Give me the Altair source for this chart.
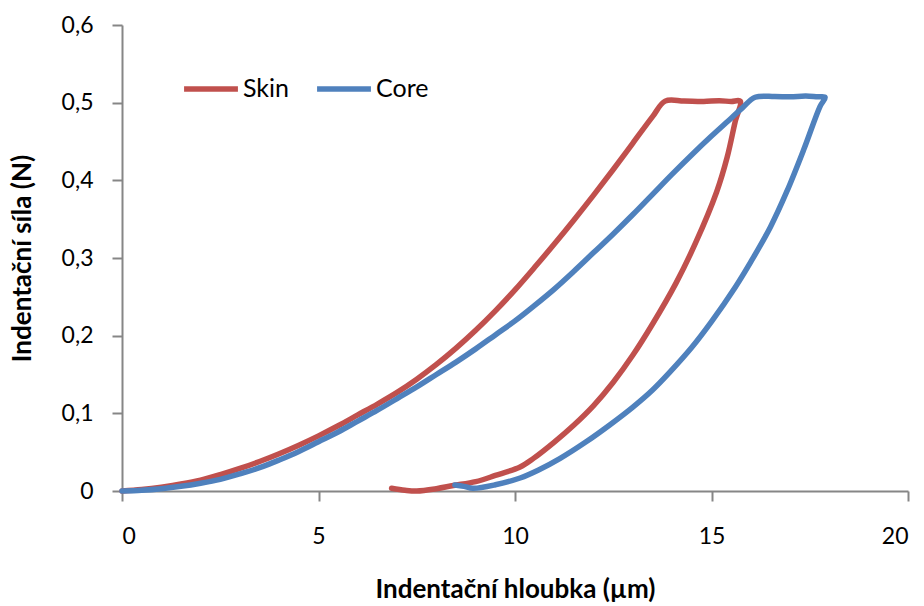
import altair as alt
import pandas as pd

# Indentation cycle readings: depth (µm) and force (N), in measurement order
skin_depth = [0.0, 0.5, 1.0, 1.5, 2.0, 2.5, 3.0, 3.5, 4.0, 4.5, 5.0, 5.5, 6.0, 6.5, 7.0,
              7.5, 8.0, 8.5, 9.0, 9.5, 10.0, 10.5, 11.0, 11.5, 12.0, 12.5, 13.0, 13.5, 13.82,
              14.3, 14.8, 15.2, 15.5, 15.73,
              15.6, 15.4, 15.13, 14.6, 14.1, 13.5, 13.0, 12.5, 12.0, 11.5, 11.0, 10.47,
              10.13, 9.5, 9.0, 8.43, 8.0, 7.5, 7.2, 6.86]
skin_force = [0.0, 0.002, 0.005, 0.009, 0.014, 0.021, 0.029, 0.038, 0.048, 0.059, 0.071,
              0.084, 0.098, 0.112, 0.127, 0.144, 0.163, 0.184, 0.207, 0.232, 0.259, 0.288,
              0.318, 0.349, 0.381, 0.414, 0.448, 0.482, 0.502,
              0.502, 0.5015, 0.5025, 0.5015, 0.502,
              0.475, 0.43, 0.385, 0.32, 0.268, 0.215, 0.175, 0.14, 0.11, 0.085, 0.063,
              0.042, 0.031, 0.02, 0.012, 0.007, 0.003, 0.0, 0.001, 0.0035]

core_depth = [0.0, 0.5, 1.0, 1.5, 2.0, 2.5, 3.0, 3.5, 4.0, 4.5, 5.0, 5.5, 6.0, 6.5, 7.0,
              7.5, 8.0, 8.5, 9.0, 9.5, 10.0, 10.5, 11.0, 11.5, 12.0, 12.5, 13.0, 13.5,
              14.0, 14.5, 15.0, 15.5, 15.8, 16.11,
              16.6, 17.0, 17.4, 17.7, 17.89,
              17.76, 17.35, 16.92, 16.5, 16.0, 15.6, 15.0, 14.5, 13.94, 13.5, 13.0, 12.41,
              11.8, 11.15, 10.6, 10.13, 9.5, 8.93, 8.7, 8.47]
core_force = [0.0, 0.001, 0.003, 0.006, 0.01, 0.015, 0.022, 0.03, 0.04, 0.051, 0.0635,
              0.076, 0.09, 0.104, 0.119, 0.134, 0.15, 0.166, 0.183, 0.201, 0.219, 0.239,
              0.26, 0.283, 0.307, 0.331, 0.356, 0.382, 0.408, 0.433, 0.457, 0.48, 0.494,
              0.507,
              0.508, 0.5075, 0.5085, 0.5075, 0.507,
              0.495, 0.44, 0.386, 0.34, 0.295, 0.262, 0.218, 0.185, 0.153, 0.13, 0.108,
              0.085, 0.063, 0.042, 0.027, 0.0167, 0.008, 0.0035, 0.006, 0.0077]

series = ["Skin", "Core"]
colors = ["#C0504D", "#4F81BD"]

rows = []
for name, xs, ys in [("Skin", skin_depth, skin_force), ("Core", core_depth, core_force)]:
    for i, (x, y) in enumerate(zip(xs, ys)):
        rows.append({"series": name, "step": i, "depth": x, "force": y})
df = pd.DataFrame(rows)

FONT = "Lato"

chart = alt.Chart(df).mark_line(
    strokeWidth=5.5, strokeCap="round", strokeJoin="round", interpolate="catmull-rom"
).encode(
    x=alt.X("depth:Q",
            scale=alt.Scale(domain=[0, 20], nice=False),
            axis=alt.Axis(values=[0, 5, 10, 15, 20], title="Indentační hloubka (µm)",
                          grid=False, tickSize=10, labelPadding=24, titlePadding=28)),
    y=alt.Y("force:Q",
            scale=alt.Scale(domain=[0, 0.6], nice=False),
            axis=alt.Axis(values=[0, 0.1, 0.2, 0.3, 0.4, 0.5, 0.6],
                          labelExpr="replace(format(datum.value, '.1~f'), '.', ',')",
                          title="Indentační síla (N)",
                          grid=False, tickSize=10, labelPadding=19, titlePadding=26)),
    color=alt.Color("series:N", scale=alt.Scale(domain=series, range=colors),
                    legend=alt.Legend(title=None, orient="none", direction="horizontal",
                                      legendX=59, legendY=34, symbolType="stroke",
                                      symbolSize=2900, symbolStrokeWidth=5.5,
                                      labelFontSize=25, labelFont=FONT, columnPadding=16,
                                      labelOffset=2)),
    order="step:Q",
).properties(
    width=786, height=466,
    autosize=alt.AutoSizeParams(type="none"),
    padding={"left": 122, "top": 25, "right": 16, "bottom": 115},
).configure_view(
    stroke=None
).configure_axis(
    domainColor="#868686", tickColor="#868686", domainWidth=2, tickWidth=2,
    labelFont=FONT, labelFontSize=23, labelColor="#000000",
    titleFont=FONT, titleFontSize=26, titleFontWeight="bold", titleColor="#000000",
)

chart.save("out.html", embed_options={"renderer": "svg", "actions": False})
